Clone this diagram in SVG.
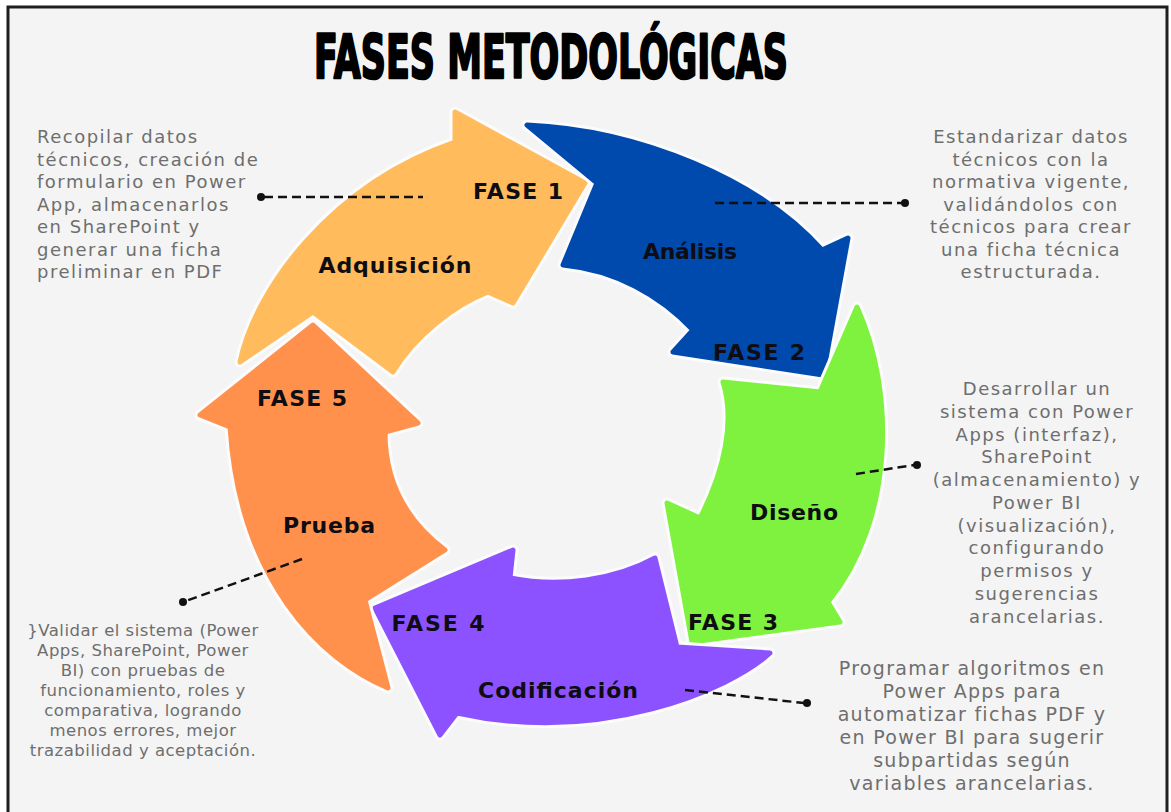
<svg xmlns="http://www.w3.org/2000/svg" width="1171" height="812" viewBox="0 0 1171 812">
<style>
.desc{font-family:"DejaVu Sans",sans-serif;fill:#6e6e6e;font-size:18px;letter-spacing:1.5px}
.lbl{font-family:"DejaVu Sans",sans-serif;font-weight:bold;fill:#0d0d12;font-size:22px;text-anchor:middle}
.halo{fill:#fcfcfc;stroke:#fcfcfc;stroke-width:11;stroke-linejoin:round}
.arrow{stroke-width:5;stroke-linejoin:round}
.dash{stroke:#111;stroke-width:2.5;stroke-dasharray:9 5;fill:none}
.dot{fill:#111}
</style>
<defs>
<path id="p1" d="M240,362 C255,290 330,185 455,142 L455,112 L585,183 L513,303 L488,292 C455,305 415,335 393,372 L313,312 Z"/>
<path id="p2" d="M527,125 C640,130 760,180 822,250 L848,238 L823,375 L673,352 L693,330 C660,295 615,270 563,265 L597,183 Z"/>
<path id="p3" d="M857,307 C895,390 895,520 828,602 L840,622 L692,642 L667,503 L700,518 C725,470 735,420 723,382 L820,392 Z"/>
<path id="p4" d="M770,653 C730,690 600,745 457,713 L440,735 L375,608 L513,550 L510,578 C560,588 615,580 655,558 L677,647 Z"/>
<path id="p5" d="M313,325 L418,423 L385,432 C385,480 405,520 445,550 L365,600 L388,688 C320,660 240,580 230,427 L200,415 Z"/>
</defs>
<rect x="0" y="0" width="1171" height="812" fill="#ffffff"/>
<rect x="8" y="7" width="1159" height="830" fill="#f4f4f4" stroke="#1e1e1e" stroke-width="3"/>
<text x="314" y="78" font-family="DejaVu Sans, sans-serif" font-weight="bold" font-size="60" fill="#000" stroke="#000" stroke-width="2.5" stroke-linejoin="round" textLength="474" lengthAdjust="spacingAndGlyphs">FASES METODOLÓGICAS</text>

<g id="fase1">
<use href="#p1" class="halo"/>
<use href="#p1" class="arrow" fill="#ffbb5c" stroke="#ffbb5c"/>
<text class="lbl" x="518" y="199" textLength="90">FASE 1</text>
<text class="lbl" x="395" y="273" textLength="153">Adquisición</text>
</g>
<g id="fase2">
<use href="#p2" class="halo"/>
<use href="#p2" class="arrow" fill="#0049ad" stroke="#0049ad"/>
<text class="lbl" x="690" y="259" textLength="94">Análisis</text>
<text class="lbl" x="759" y="360" textLength="92">FASE 2</text>
</g>
<g id="fase3">
<use href="#p3" class="halo"/>
<use href="#p3" class="arrow" fill="#7ef23e" stroke="#7ef23e"/>
<text class="lbl" x="794" y="520" textLength="88">Diseño</text>
<text class="lbl" x="733" y="630" textLength="90">FASE 3</text>
</g>
<g id="fase4">
<use href="#p4" class="halo"/>
<use href="#p4" class="arrow" fill="#8c52ff" stroke="#8c52ff"/>
<text class="lbl" x="438" y="631" textLength="93">FASE 4</text>
<text class="lbl" x="558" y="698" textLength="160">Codificación</text>
</g>
<g id="fase5">
<use href="#p5" class="halo"/>
<use href="#p5" class="arrow" fill="#ff914d" stroke="#ff914d"/>
<text class="lbl" x="302" y="406" textLength="90">FASE 5</text>
<text class="lbl" x="329" y="533" textLength="92">Prueba</text>
</g>

<g id="connectors">
<line class="dash" x1="264" y1="197" x2="423" y2="197"/>
<circle class="dot" cx="261" cy="197" r="4"/>
<line class="dash" x1="715" y1="203" x2="902" y2="203"/>
<circle class="dot" cx="905" cy="203" r="4"/>
<line class="dash" x1="856" y1="474" x2="914" y2="465"/>
<circle class="dot" cx="917" cy="465" r="4"/>
<line class="dash" x1="685" y1="690" x2="804" y2="703"/>
<circle class="dot" cx="807" cy="703" r="4"/>
<line class="dash" x1="302" y1="559" x2="186" y2="601"/>
<circle class="dot" cx="183" cy="602" r="4"/>
</g>

<g id="desc1">
<text class="desc" x="37" y="143">Recopilar datos</text>
<text class="desc" x="37" y="165.5">técnicos, creación de</text>
<text class="desc" x="37" y="188">formulario en Power</text>
<text class="desc" x="37" y="210.5">App, almacenarlos</text>
<text class="desc" x="37" y="233">en SharePoint y</text>
<text class="desc" x="37" y="255.5">generar una ficha</text>
<text class="desc" x="37" y="278">preliminar en PDF</text>
</g>
<g id="desc2" text-anchor="middle">
<text class="desc" x="1031" y="143">Estandarizar datos</text>
<text class="desc" x="1031" y="165.5">técnicos con la</text>
<text class="desc" x="1031" y="188">normativa vigente,</text>
<text class="desc" x="1031" y="210.5">validándolos con</text>
<text class="desc" x="1031" y="233">técnicos para crear</text>
<text class="desc" x="1031" y="255.5">una ficha técnica</text>
<text class="desc" x="1031" y="278">estructurada.</text>
</g>
<g id="desc3" text-anchor="middle">
<text class="desc" x="1037" y="395">Desarrollar un</text>
<text class="desc" x="1037" y="418">sistema con Power</text>
<text class="desc" x="1037" y="441">Apps (interfaz),</text>
<text class="desc" x="1037" y="463">SharePoint</text>
<text class="desc" x="1037" y="486">(almacenamiento) y</text>
<text class="desc" x="1037" y="509">Power BI</text>
<text class="desc" x="1037" y="532">(visualización),</text>
<text class="desc" x="1037" y="554">configurando</text>
<text class="desc" x="1037" y="577">permisos y</text>
<text class="desc" x="1037" y="600">sugerencias</text>
<text class="desc" x="1037" y="623">arancelarias.</text>
</g>
<g id="desc4" text-anchor="middle">
<text class="desc" x="972" y="675" style="font-size:19px;letter-spacing:1.3px">Programar algoritmos en</text>
<text class="desc" x="972" y="698" style="font-size:19px;letter-spacing:1.3px">Power Apps para</text>
<text class="desc" x="972" y="721" style="font-size:19px;letter-spacing:1.3px">automatizar fichas PDF y</text>
<text class="desc" x="972" y="744" style="font-size:19px;letter-spacing:1.3px">en Power BI para sugerir</text>
<text class="desc" x="972" y="767" style="font-size:19px;letter-spacing:1.3px">subpartidas según</text>
<text class="desc" x="972" y="790" style="font-size:19px;letter-spacing:1.3px">variables arancelarias.</text>
</g>
<g id="desc5" text-anchor="middle">
<text class="desc" x="143" y="636" style="font-size:16.5px;letter-spacing:0.5px">}Validar el sistema (Power</text>
<text class="desc" x="143" y="656" style="font-size:16.5px;letter-spacing:0.5px">Apps, SharePoint, Power</text>
<text class="desc" x="143" y="676" style="font-size:16.5px;letter-spacing:0.5px">BI) con pruebas de</text>
<text class="desc" x="143" y="696" style="font-size:16.5px;letter-spacing:0.5px">funcionamiento, roles y</text>
<text class="desc" x="143" y="716" style="font-size:16.5px;letter-spacing:0.5px">comparativa, logrando</text>
<text class="desc" x="143" y="736" style="font-size:16.5px;letter-spacing:0.5px">menos errores, mejor</text>
<text class="desc" x="143" y="756" style="font-size:16.5px;letter-spacing:0.5px">trazabilidad y aceptación.</text>
</g>
</svg>
